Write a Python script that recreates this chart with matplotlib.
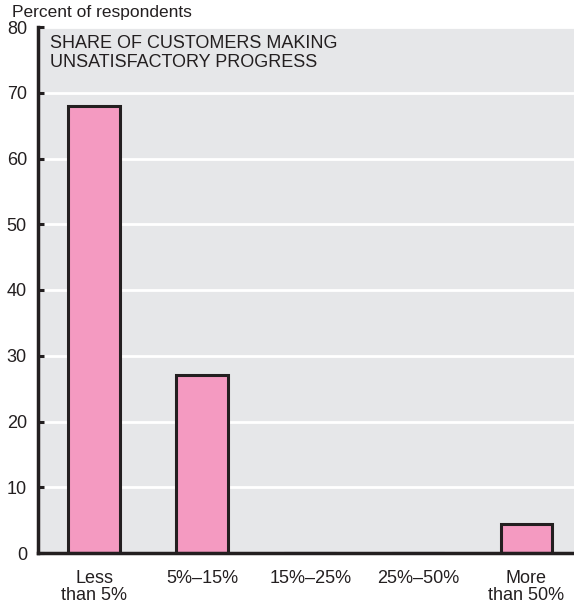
import matplotlib
matplotlib.use("Agg")
import matplotlib.pyplot as plt
from matplotlib import font_manager

# pick a narrow font if available
names = {f.name for f in font_manager.fontManager.ttflist}
narrow = "Liberation Sans Narrow" if "Liberation Sans Narrow" in names else "Liberation Sans"

categories = ["Less\nthan 5%", "5%\u201315%", "15%\u201325%", "25%\u201350%", "More\nthan 50%"]
values = [68, 27, 0, 0, 4.4]
yticks = [0, 10, 20, 30, 40, 50, 60, 70, 80]

dark = "#231f20"
pink = "#f49ac1"
bg = "#e6e7e9"

fig = plt.figure(figsize=(5.74, 6.07), dpi=100)
ax = fig.add_axes([38 / 574, 54 / 607, 1 - 38 / 574, 526 / 607])
ax.set_facecolor(bg)

x = list(range(len(categories)))
ax.bar(x, values, width=0.48, color=pink, edgecolor=dark, linewidth=2.2, zorder=3)

ax.set_xlim(-0.52, 4.44)
ax.set_ylim(0, 80)
ax.set_yticks(yticks)
ax.grid(axis="y", color="white", linewidth=2, zorder=1)
ax.set_axisbelow(True)

for s in ["top", "right"]:
    ax.spines[s].set_visible(False)
for s in ["left", "bottom"]:
    ax.spines[s].set_color(dark)
    ax.spines[s].set_linewidth(2.5)
    ax.spines[s].set_zorder(4)

ax.tick_params(axis="y", direction="in", length=4, width=2.2, color=dark,
               labelsize=13, pad=8, labelcolor=dark)
ax.tick_params(axis="x", length=0, labelsize=13, pad=12, labelcolor=dark)
ax.set_xticks(x)
ax.set_xticklabels(categories, fontfamily=narrow, linespacing=1.05)
for lab in ax.get_yticklabels():
    lab.set_fontfamily(narrow)

fig.text(12 / 574, 1 - 12 / 607, "Percent of respondents", fontsize=12.5,
         fontfamily=narrow, color=dark, va="center", ha="left")
ax.text(12 / 536, 0.985, "SHARE OF CUSTOMERS MAKING\nUNSATISFACTORY PROGRESS",
        transform=ax.transAxes, fontsize=13, fontfamily="Liberation Sans",
        color=dark, va="top", ha="left", linespacing=1.2)

fig.savefig("out.png", dpi=100)
